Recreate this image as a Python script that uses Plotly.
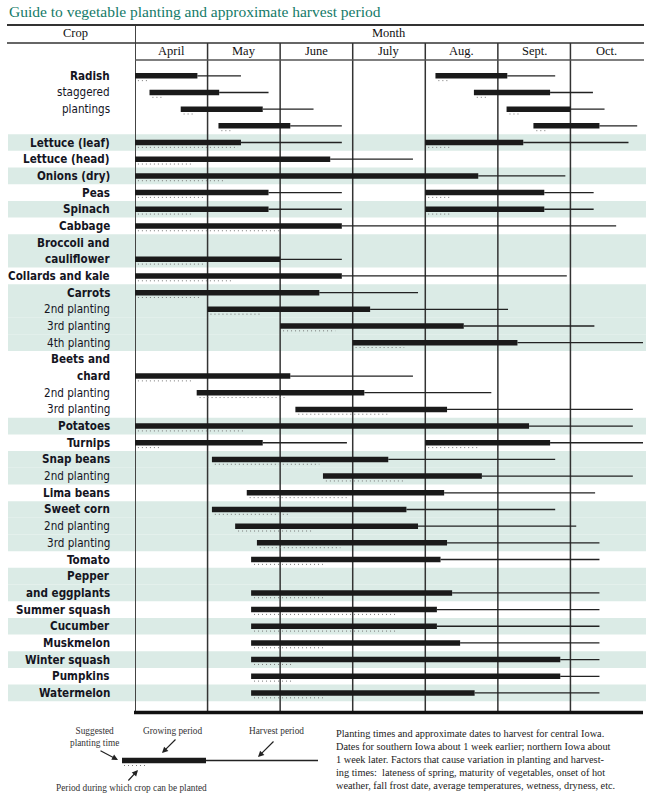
import plotly.graph_objects as go

W, H = 650, 795

# ---------------- data ----------------
MONTHS = ["April", "May", "June", "July", "Aug.", "Sept.", "Oct."]

ROW_LABELS = [
    "Radish", "staggered", "plantings", "",
    "Lettuce (leaf)", "Lettuce (head)", "Onions (dry)", "Peas", "Spinach",
    "Cabbage", "Broccoli and", "cauliflower", "Collards and kale",
    "Carrots", "2nd planting", "3rd planting", "4th planting",
    "Beets and", "chard", "2nd planting", "3rd planting",
    "Potatoes", "Turnips", "Snap beans", "2nd planting", "Lima beans",
    "Sweet corn", "2nd planting", "3rd planting", "Tomato",
    "Pepper", "and eggplants", "Summer squash", "Cucumber", "Muskmelon",
    "Winter squash", "Pumpkins", "Watermelon",
]
ROW_BOLD = [
    1, 0, 0, 0,
    1, 1, 1, 1, 1,
    1, 1, 1, 1,
    1, 0, 0, 0,
    1, 1, 0, 0,
    1, 1, 1, 0, 1,
    1, 0, 0, 1,
    1, 1, 1, 1, 1,
    1, 1, 1,
]
SHADED_ROWS = [4, 6, 8, 10, 11, 13, 14, 15, 16, 21, 23, 24, 26, 27, 28,
               30, 31, 33, 35, 37]

# month units: 0 = start of April, 7 = end of October
BAR_ROW     = [0, 0, 1, 1, 2, 2, 3, 3,
               4, 4, 5, 6, 7, 7, 8, 8, 9, 11, 12,
               13, 14, 15, 16, 18, 19, 20, 21, 22, 22,
               23, 24, 25, 26, 27, 28, 29, 31, 32, 33, 34, 35, 36, 37]
PLANT_START = [0.00, 4.14, 0.20, 4.67, 0.63, 5.12, 1.15, 5.49,
               0.00, 4.00, 0.00, 0.00, 0.00, 4.00, 0.00, 4.00, 0.00, 0.00, 0.00,
               0.00, 1.00, 2.00, 3.00, 0.00, 0.85, 2.21, 0.00, 0.00, 4.00,
               1.06, 2.59, 1.54, 1.06, 1.38, 1.68, 1.60, 1.60, 1.60, 1.60, 1.60, 1.60, 1.60, 1.60]
GROW_END    = [0.86, 5.13, 1.16, 5.72, 1.76, 6.00, 2.14, 6.40,
               1.46, 5.35, 2.69, 4.73, 1.84, 5.64, 1.84, 5.64, 2.85, 2.00, 2.85,
               2.54, 3.24, 4.53, 5.27, 2.14, 3.16, 4.30, 5.43, 1.76, 5.72,
               3.49, 4.78, 4.26, 3.74, 3.90, 4.30, 4.21, 4.37, 4.16, 4.16, 4.48, 5.86, 5.86, 4.68]
HARVEST_END = [1.46, 5.79, 1.84, 6.31, 2.46, 6.47, 2.85, 6.92,
               2.85, 6.80, 3.83, 5.93, 2.85, 6.32, 2.85, 6.32, 6.63, 2.85, 5.95,
               3.90, 5.14, 6.33, 7.00, 3.83, 4.91, 6.86, 6.86, 2.92, 7.00,
               5.79, 6.86, 6.34, 5.79, 6.08, 6.40, 6.40, 6.40, 6.40, 6.40, 6.40, 6.40, 6.40, 6.40]
PLANT_END   = [0.19, 4.33, 0.39, 4.87, 0.81, 5.31, 1.34, 5.69,
               1.42, 4.34, 0.79, 1.25, 0.94, 4.34, 0.79, 4.34, 1.99, 0.94, 1.34,
               0.89, 1.73, 2.76, 3.71, 0.79, 2.06, 3.49, 1.51, 0.36, 4.75,
               2.54, 3.71, 2.94, 2.14, 2.45, 2.83, 2.59, 2.59, 3.60, 3.60, 2.59, 2.19, 2.19, 2.59]

NOTE_LINES = [
    "Planting times and approximate dates to harvest for central Iowa.",
    "Dates for southern Iowa about 1 week earlier; northern Iowa about",
    "1 week later. Factors that cause variation in planting and harvest-",
    "ing times:  lateness of spring, maturity of vegetables, onset of hot",
    "weather, fall frost date, average temperatures, wetness, dryness, etc.",
]

# ---------------- layout helpers ----------------
ROW0_PX = 75.8
ROW_PX = 16.68
X0_PX, X1_PX = 135, 643
DOT_OFF = 0.29

SERIF = "Liberation Serif, DejaVu Serif, serif"
SANS_N = "Liberation Sans Narrow, DejaVu Sans Condensed, Arial Narrow, Roboto, sans-serif"
TEAL = "#137a68"


def px(p):
    return p / W


def py(p):
    return 1 - p / H


def seg(starts, ends, rows, off=0.0):
    xs, ys = [], []
    for s, e, r in zip(starts, ends, rows):
        xs += [s, e, None]
        ys += [r + off, r + off, None]
    return xs, ys


fig = go.Figure()

# harvest lines
hx, hy = seg(GROW_END, HARVEST_END, BAR_ROW)
fig.add_trace(go.Scatter(x=hx, y=hy, mode="lines",
                         line=dict(color="#222", width=1.3), hoverinfo="skip"))
# growing bars
gx, gy = seg(PLANT_START, GROW_END, BAR_ROW)
fig.add_trace(go.Scatter(x=gx, y=gy, mode="lines",
                         line=dict(color="#1a1a1a", width=5.5), hoverinfo="skip"))
# planting windows (dotted)
dx, dy = seg([s + 0.04 for s in PLANT_START], PLANT_END, BAR_ROW, DOT_OFF)
fig.add_trace(go.Scatter(x=dx, y=dy, mode="lines",
                         line=dict(color="#777", width=1, dash="1px,3px"),
                         hoverinfo="skip"))

shapes = []
# shaded bands
for r in SHADED_ROWS:
    shapes.append(dict(type="rect", xref="paper", yref="y", x0=px(8), x1=px(646),
                       y0=r - 0.5, y1=r + 0.5, fillcolor="#dbebe6",
                       line=dict(width=0), layer="below"))
# month grid lines
for i in range(1, len(MONTHS)):
    shapes.append(dict(type="line", xref="x", yref="paper", x0=i, x1=i,
                       y0=py(43), y1=py(712), line=dict(color="#333", width=1.5),
                       layer="below"))
# crop column separator
shapes.append(dict(type="line", xref="x", yref="paper", x0=0, x1=0,
                   y0=py(25), y1=py(712), line=dict(color="#444", width=2),
                   layer="below"))
# header lines
shapes.append(dict(type="line", xref="paper", yref="paper", x0=px(7), x1=px(644),
                   y0=py(25), y1=py(25), line=dict(color="#333", width=2)))
shapes.append(dict(type="line", xref="paper", yref="paper", x0=px(7), x1=px(644),
                   y0=py(43), y1=py(43), line=dict(color="#333", width=1.6)))
shapes.append(dict(type="line", xref="paper", yref="paper", x0=px(135), x1=px(644),
                   y0=py(60), y1=py(60), line=dict(color="#555", width=1.4)))
# bottom thick rule
shapes.append(dict(type="line", xref="paper", yref="paper", x0=px(134), x1=px(643),
                   y0=py(712.5), y1=py(712.5), line=dict(color="#111", width=3.5)))
# legend sample
shapes.append(dict(type="line", xref="paper", yref="paper", x0=px(206), x1=px(318),
                   y0=py(760.5), y1=py(760.5), line=dict(color="#222", width=1.3)))
shapes.append(dict(type="line", xref="paper", yref="paper", x0=px(122), x1=px(206),
                   y0=py(760.5), y1=py(760.5), line=dict(color="#1a1a1a", width=5.5)))
shapes.append(dict(type="line", xref="paper", yref="paper", x0=px(124), x1=px(147),
                   y0=py(765.5), y1=py(765.5),
                   line=dict(color="#777", width=1, dash="1px,3px")))

ann = []


def text(t, x, y, xanchor="center", font=None, xref="paper", yref="paper", **kw):
    ann.append(dict(text=t, xref=xref, yref=yref, x=x, y=y, xanchor=xanchor,
                    yanchor="middle", showarrow=False, font=font, **kw))


HDR_FONT = dict(family=SERIF, size=12.5, color="#111")
text("Guide to vegetable planting and approximate harvest period", px(7), py(12),
     xanchor="left", font=dict(family=SERIF, size=15.5, color=TEAL))
text("Crop", px(75), py(33), font=HDR_FONT)
text("Month", 3.5, py(33), font=HDR_FONT, xref="x")
for i, m in enumerate(MONTHS):
    text(m, i + 0.5, py(51), font=HDR_FONT, xref="x")
for i, (lab, b) in enumerate(zip(ROW_LABELS, ROW_BOLD)):
    if not lab:
        continue
    text(f"<b>{lab}</b>" if b else lab, px(112), i, xanchor="right", yref="y",
         font=dict(family=SANS_N, size=11.6, color="#15151f"))

LEG_FONT = dict(family=SERIF, size=9.3, color="#333")
text("Suggested<br>planting time", px(94), py(737), font=LEG_FONT, align="center")
text("Growing period", px(173), py(731), font=LEG_FONT)
text("Harvest period", px(276), py(731), font=LEG_FONT)
text("Period during which crop can be planted", px(131), py(788), font=LEG_FONT)
for hx_, hy_, tx, ty in [(118, 760, 99, 750), (162, 753, 177, 738),
                         (258, 757, 275, 740), (138, 770, 127, 782)]:
    ann.append(dict(text="", xref="paper", yref="paper", x=px(hx_), y=py(hy_),
                    ax=tx - hx_, ay=ty - hy_, axref="pixel", ayref="pixel",
                    showarrow=True, arrowhead=2, arrowsize=1, arrowwidth=1.2,
                    arrowcolor="#222"))

for k, line in enumerate(NOTE_LINES):
    text(line, px(334), py(733.5 + 13 * k), xanchor="left",
         font=dict(family=SERIF, size=10.3, color="#222"))

fig.update_layout(
    width=W, height=H, margin=dict(l=0, r=0, t=0, b=0),
    paper_bgcolor="white", plot_bgcolor="rgba(0,0,0,0)", showlegend=False,
    xaxis=dict(domain=[px(X0_PX), px(X1_PX)], range=[0, 7], visible=False,
               fixedrange=True),
    yaxis=dict(domain=[0, 1],
               range=[(H - ROW0_PX) / ROW_PX, -ROW0_PX / ROW_PX],
               visible=False, fixedrange=True),
    shapes=shapes, annotations=ann,
)

fig.write_html("out.html", config={"displayModeBar": False},
               post_script="document.body.style.margin='0';"
                           "document.body.style.overflow='hidden';")
